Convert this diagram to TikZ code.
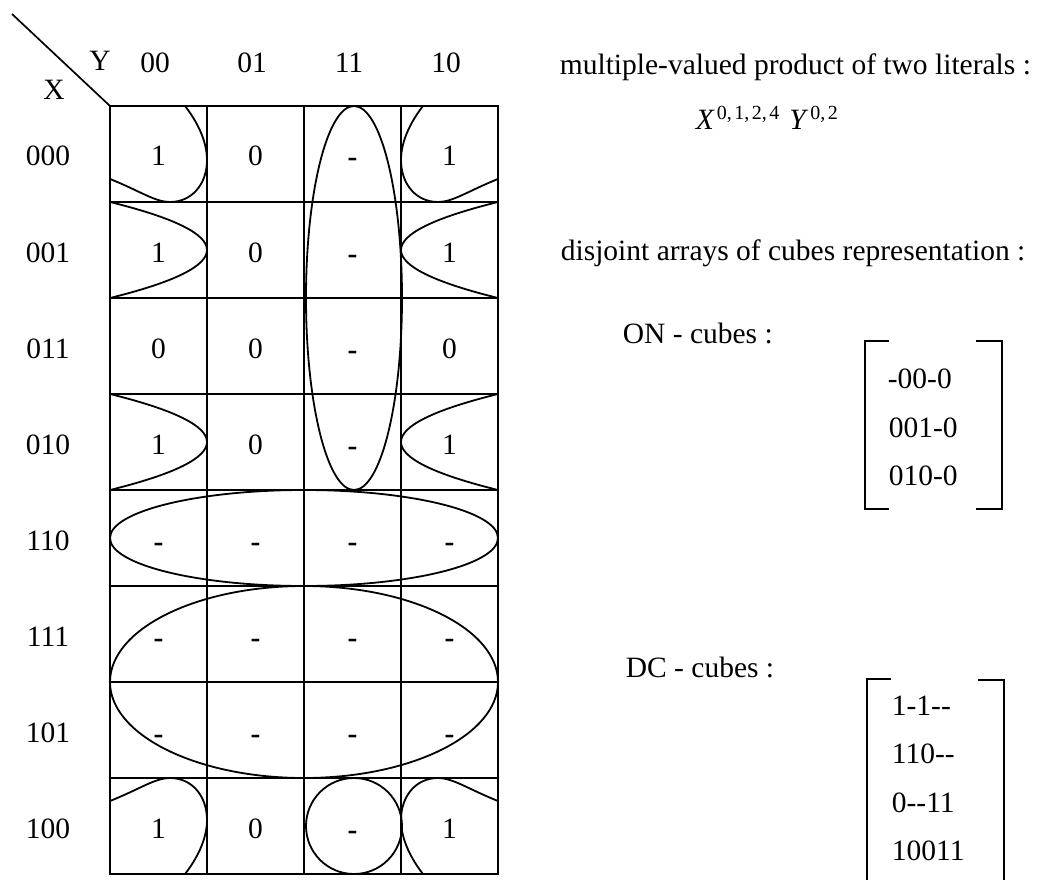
\documentclass[tikz,border=0pt]{standalone}
\usepackage{fontspec}
\setmainfont{Liberation Serif}
\begin{document}
\begin{tikzpicture}[x=1pt,y=-1pt,line width=1.7pt,
  big/.style={inner sep=0pt,font=\fontsize{29.5}{35}\selectfont},
  val/.style={big,anchor=base},
  txt/.style={big,anchor=base west},
  cube/.style={line width=1.8pt},
  brk/.style={line width=1.8pt}]
\useasboundingbox (0,0) rectangle (1037,880);

% ---- map frame: 4 columns x 8 rows
\coordinate (nw) at (110,106);
\coordinate (se) at (498,874);
\coordinate (diag) at (12,14);
\draw (nw) rectangle (se);
\foreach \c in {1,2,3} \draw (110+97*\c,106) -- (110+97*\c,874);
\foreach \r in {1,...,7} \draw (110,106+96*\r) -- (498,106+96*\r);
\draw (diag) -- (nw);

% ---- axis labels
\node[val] (Ylab) at (100,71) {Y};
\node[val] (Xlab) at (54,100) {X};
\foreach \c/\t in {0/00,1/01,2/11,3/10}
  \node[val] (col\c) at (155+97*\c,73) {\t};
\foreach \r/\t in {0/000,1/001,2/011,3/010,4/110,5/111,6/101,7/100}
  \node[val] (row\r) at (48,166+96*\r) {\t};

% ---- cell entries
\foreach \r/\a/\b/\d in {0/1/0/1,1/1/0/1,2/0/0/0,3/1/0/1,7/1/0/1}{
  \node[val] (c\r-0) at (158.5,166+96*\r) {\a};
  \node[val] (c\r-1) at (255.5,166+96*\r) {\b};
  \node[val] (c\r-3) at (449.5,166+96*\r) {\d};
}
\foreach \r in {4,5,6}{
  \node[val] (c\r-0) at (158.5,167+96*\r) {\textbf{-}};
  \node[val] (c\r-1) at (255.5,167+96*\r) {\textbf{-}};
  \node[val] (c\r-3) at (449.5,167+96*\r) {\textbf{-}};
}
\foreach \r in {0,...,7}
  \node[val] (c\r-2) at (352.5,167+96*\r) {\textbf{-}};

% ---- cubes of the product
\draw[cube] (354,298) ellipse [x radius=48pt, y radius=192pt];
\draw[cube] (304,538) ellipse [x radius=194pt, y radius=48pt];
\draw[cube] (304,682) ellipse [x radius=194pt, y radius=96pt];
\draw[cube] (354,826) circle [radius=48pt];

% wrap-around halves in the outer columns
\foreach \r in {1,3}{
  \draw[cube] (110,106+96*\r) .. controls (174.7,122+96*\r) and (207,138+96*\r) .. (207,154+96*\r)
              .. controls (207,170+96*\r) and (174.7,186+96*\r) .. (110,202+96*\r);
  \draw[cube] (498,106+96*\r) .. controls (433.3,122+96*\r) and (401,138+96*\r) .. (401,154+96*\r)
              .. controls (401,170+96*\r) and (433.3,186+96*\r) .. (498,202+96*\r);
}

% wrap-around corners
\foreach \sx/\sy/\xs/\ys in {110/106/1/1, 498/106/-1/1, 110/874/1/-1, 498/874/-1/-1}{
  \begin{scope}[shift={(\sx,\sy)},xscale=\xs,yscale=\ys]
    \draw[cube] (0,73) .. controls (30,85) and (45,96) .. (60,96)
                .. controls (82,96) and (97,78) .. (97,54)
                .. controls (97,34) and (86,14) .. (75,0);
  \end{scope}
}

% ---- description
\node[txt] (head) at (559,75) {multiple-valued product of two literals :};
\node[txt] (expr) at (695,130) {\textit{X}\kern2pt\raisebox{10pt}{\fontsize{20}{20}\selectfont 0,\kern2.5pt1,\kern2.5pt2,\kern2.5pt4}\kern10pt\textit{Y}\kern2pt\raisebox{10pt}{\fontsize{20}{20}\selectfont 0,\kern2.5pt2}};
\node[txt] (disj) at (560,260) {disjoint arrays of cubes representation :};
\node[txt] (onl) at (622,343) {ON - cubes :};
\node[txt] (dcl) at (625,677) {DC - cubes :};

% ON matrix
\draw[brk] (889,341) -- (865,341) -- (865,509) -- (889,509);
\draw[brk] (976,341) -- (1002,341) -- (1002,509) -- (976,509);
\node[txt] (on1) at (887,388) {-00-0};
\node[txt] (on2) at (888,437) {001-0};
\node[txt] (on3) at (888,485) {010-0};

% DC matrix (open at the bottom)
\draw[brk] (891,679) -- (867,679) -- (867,880);
\draw[brk] (978,680) -- (1004,680) -- (1004,880);
\node[txt] (dc1) at (891,715) {1-1\mbox{-}\mbox{-}};
\node[txt] (dc2) at (891,763) {110\mbox{-}\mbox{-}};
\node[txt] (dc3) at (891,812) {0\mbox{-}\mbox{-}11};
\node[txt] (dc4) at (891,860) {10011};
\end{tikzpicture}
\end{document}
